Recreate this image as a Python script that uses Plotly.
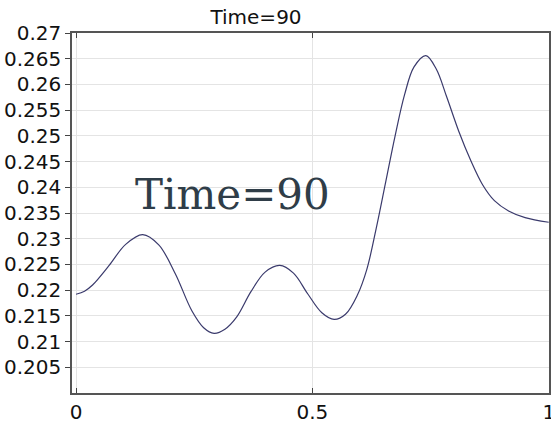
import plotly.graph_objects as go

x_vals = [0.000, 0.018, 0.035, 0.070, 0.105, 0.141, 0.175, 0.210, 0.245, 0.270, 0.292,
          0.315, 0.340, 0.370, 0.400, 0.431, 0.460, 0.490, 0.520, 0.546, 0.570,
          0.595, 0.615, 0.635, 0.655, 0.675, 0.695, 0.715, 0.740, 0.762, 0.784,
          0.810, 0.835, 0.860, 0.885, 0.915, 0.950, 1.000]
y_vals = [0.2192, 0.2198, 0.2210, 0.2248, 0.2289, 0.2308, 0.2288, 0.2232, 0.2160, 0.2127, 0.2116,
          0.2124, 0.2148, 0.2197, 0.2235, 0.2248, 0.2233, 0.2193, 0.2156, 0.2143, 0.2153,
          0.2190, 0.2240, 0.2320, 0.2410, 0.2500, 0.2580, 0.2634, 0.2656, 0.2630, 0.2576,
          0.2508, 0.2452, 0.2405, 0.2374, 0.2354, 0.2341, 0.2332]

y_ticks = [0.205, 0.21, 0.215, 0.22, 0.225, 0.23, 0.235, 0.24, 0.245, 0.25,
           0.255, 0.26, 0.265, 0.27]
y_tick_text = ["0.205", "0.21", "0.215", "0.22", "0.225", "0.23", "0.235", "0.24",
               "0.245", "0.25", "0.255", "0.26", "0.265", "0.27"]
x_ticks = [0, 0.5, 1]
x_tick_text = ["0", "0.5", "1"]
title_text = "Time=90"
annotation_text = "Time=90"

fig = go.Figure()
fig.add_trace(go.Scatter(
    x=x_vals, y=y_vals, mode="lines",
    line=dict(color="#3a3a6c", width=1.2, shape="spline", smoothing=1.0),
    showlegend=False, hoverinfo="skip",
))

fig.update_layout(
    width=551, height=423,
    margin=dict(l=72, r=2, t=33, b=30, autoexpand=False),
    paper_bgcolor="white", plot_bgcolor="white",
    font=dict(family="DejaVu Sans", color="#111111"),
    title=dict(text=title_text, x=256 / 551, xanchor="center",
               y=1 - 17 / 423, yanchor="middle",
               font=dict(family="DejaVu Sans", size=20, color="#111111")),
    annotations=[dict(
        text=annotation_text, xref="paper", yref="paper",
        x=(232 - 72) / 477, y=(393 - 194) / 360,
        xanchor="center", yanchor="middle", showarrow=False,
        font=dict(family="DejaVu Serif", size=42, color="#2f3d48"),
    )],
)

fig.update_xaxes(
    range=[-0.0085, 1.0005], tickvals=x_ticks, ticktext=x_tick_text,
    ticks="inside", ticklen=5, tickcolor="#444444", tickwidth=1,
    showgrid=True, gridcolor="#e4e4e4", gridwidth=1,
    showline=True, linecolor="#555555", linewidth=1.5, mirror="ticks",
    tickfont=dict(size=20, family="DejaVu Sans", color="#111111"),
    zeroline=False, automargin=False, ticklabeloverflow="allow",
)
fig.update_yaxes(
    range=[0.2, 0.27], tickvals=y_ticks, ticktext=y_tick_text,
    ticks="outside", ticklen=5, tickcolor="#444444", tickwidth=1,
    showgrid=True, gridcolor="#e4e4e4", gridwidth=1,
    showline=True, linecolor="#555555", linewidth=1.5, mirror="ticks",
    tickfont=dict(size=20, family="DejaVu Sans", color="#111111"),
    zeroline=False, automargin=False, ticklabeloverflow="allow",
)

fig.write_html("out.html")
